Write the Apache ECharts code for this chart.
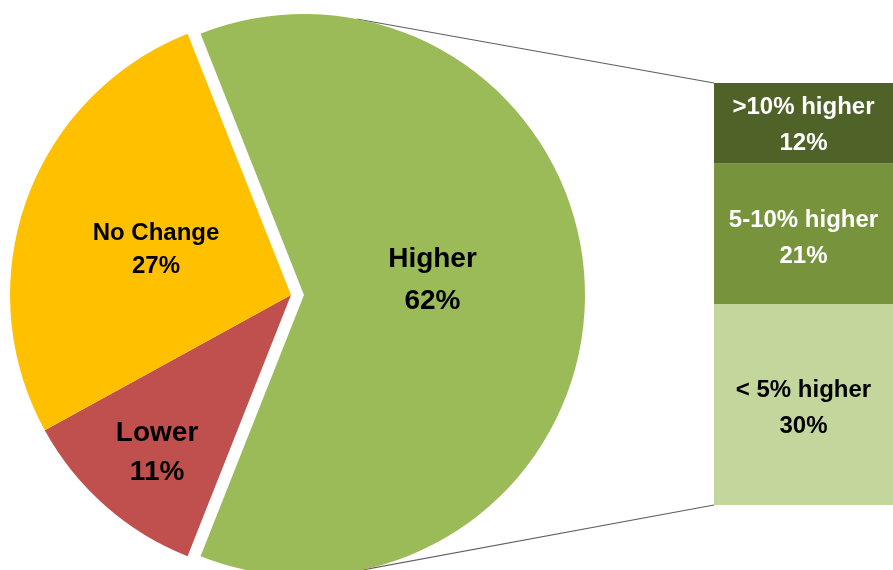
<!DOCTYPE html>
<html>
<head>
<meta charset="utf-8">
<script src="https://cdn.jsdelivr.net/npm/echarts@6/dist/echarts.min.js"></script>
<style>
  html, body { margin: 0; padding: 0; background: #fff; }
  #chart { width: 893px; height: 570px; }
</style>
</head>
<body>
<div id="chart"></div>
<script>
// Main pie: share of responses
const pieCategories = ['Higher', 'Lower', 'No Change'];
const pieValues = [62, 11, 27];
const pieColors = ['#9BBB59', '#C0504D', '#FFC000'];

// Breakdown of "Higher" (stacked bar, bottom to top)
const barCategories = ['< 5% higher', '5-10% higher', '>10% higher'];
const barValues = [30, 21, 12];
const barColors = ['#C3D69B', '#77933C', '#4F6228'];
const barTextColors = ['#000000', '#ffffff', '#ffffff'];

// Layout constants
const PIE_CX = 291, PIE_CY = 295, PIE_R = 281;
const EXPLODE = 13;
const GRID = { left: 714, top: 83, width: 190, height: 422 };
const LINK_ANGLE = 79.2; // degrees from the 3 o'clock direction

// Label nudges (dx, dy) per pie slice, in pieCategories order
const labelNudge = [[-15, -15], [-39, 50], [0, 3]];
const labelSize = [28, 28, 24];
const labelLineHeight = [42, 39, 33];
const barLabelOffset = [[0, 4], [0, 5], [0, 2]];

const total = barValues.reduce((a, b) => a + b, 0);
const higherShare = pieValues[0] / pieValues.reduce((a, b) => a + b, 0);
const startAngle = higherShare * 360 / 2;

const chart = echarts.init(document.getElementById('chart'), null, { renderer: 'canvas' });

const pieData = pieCategories.map((name, i) => ({
  name,
  value: pieValues[i],
  selected: i === 0,
  itemStyle: { color: pieColors[i] },
  label: {
    fontSize: labelSize[i],
    lineHeight: labelLineHeight[i]
  }
}));

const barSeries = barCategories.map((name, i) => ({
  name,
  type: 'bar',
  stack: 'higher',
  barWidth: '100%',
  data: [barValues[i]],
  itemStyle: { color: barColors[i] },
  label: {
    show: true,
    position: 'inside',
    offset: barLabelOffset[i],
    formatter: '{a}\n{c}%',
    color: barTextColors[i],
    fontFamily: 'Liberation Sans',
    fontWeight: 'bold',
    fontSize: 24,
    lineHeight: 36
  },
  emphasis: { disabled: true },
  silent: true
}));

// Connector lines from the exploded slice to the breakdown bar
const higherCx = PIE_CX + EXPLODE;
const rad = LINK_ANGLE * Math.PI / 180;
const sx = higherCx + PIE_R * Math.cos(rad);
const syTop = PIE_CY - PIE_R * Math.sin(rad);
const syBottom = PIE_CY + PIE_R * Math.sin(rad);

chart.setOption({
  animation: false,
  backgroundColor: '#ffffff',
  grid: { left: GRID.left, top: GRID.top, width: GRID.width, height: GRID.height, containLabel: false },
  xAxis: { type: 'category', data: ['Higher'], show: false, boundaryGap: true },
  yAxis: { type: 'value', min: 0, max: total, show: false },
  graphic: [
    {
      type: 'line',
      silent: true,
      shape: { x1: sx, y1: syTop, x2: GRID.left, y2: GRID.top },
      style: { stroke: '#5f5f5f', lineWidth: 1.2 }
    },
    {
      type: 'line',
      silent: true,
      shape: { x1: sx, y1: syBottom, x2: GRID.left, y2: GRID.top + GRID.height },
      style: { stroke: '#5f5f5f', lineWidth: 1.2 }
    }
  ],
  series: [
    {
      type: 'pie',
      center: [PIE_CX, PIE_CY],
      radius: [0, PIE_R],
      startAngle: startAngle,
      clockwise: true,
      selectedMode: 'single',
      selectedOffset: EXPLODE,
      avoidLabelOverlap: false,
      silent: true,
      emphasis: { disabled: true },
      select: { itemStyle: { borderWidth: 0 } },
      itemStyle: { borderWidth: 0 },
      label: {
        show: true,
        position: 'inside',
        formatter: '{b}\n{d}%',
        color: '#000000',
        fontFamily: 'Liberation Sans',
        fontWeight: 'bold'
      },
      labelLine: { show: false },
      labelLayout: function (params) {
        const n = labelNudge[params.dataIndex];
        return { dx: n[0], dy: n[1] };
      },
      data: pieData
    },
    ...barSeries
  ]
});
</script>
</body>
</html>
